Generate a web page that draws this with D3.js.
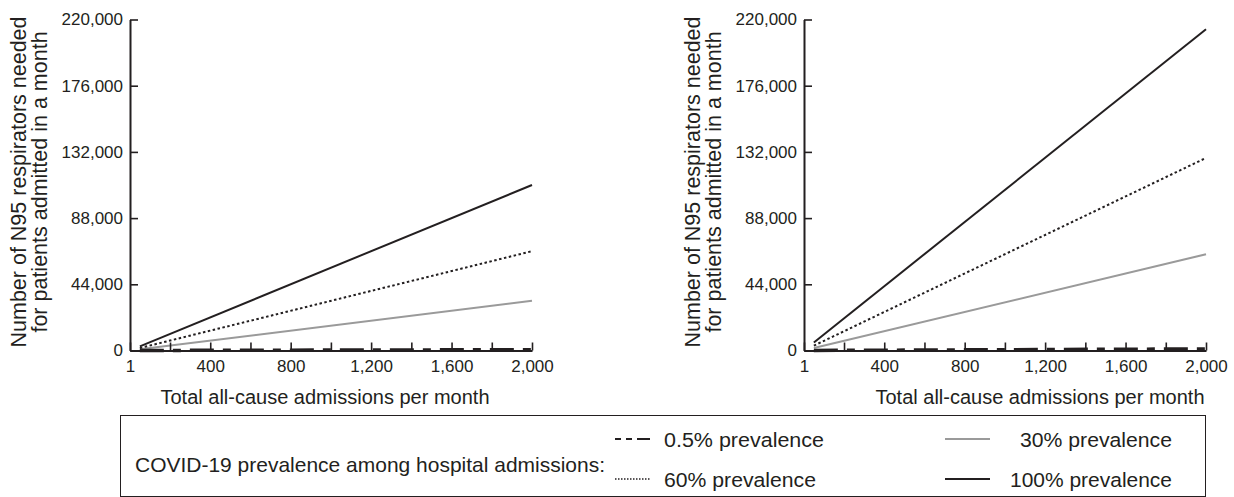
<!DOCTYPE html>
<html>
<head>
<meta charset="utf-8">
<script src="https://cdn.jsdelivr.net/npm/d3@7"></script>
<style>
	body { margin: 0; background: #fff; }
	svg text { font-family: "Liberation Sans", Arial, sans-serif; fill: #231f20; }
</style>
</head>
<body>
<div id="chart"></div>
<script>
// admissions per month at the two ends of each straight line
var admissions = [50, 2000];

// left panel: N95 respirators needed
var leftPrev05 = [28, 550];
var leftPrev30 = [825, 33000];
var leftPrev60 = [1650, 66000];
var leftPrev100 = [2750, 110000];

// right panel
var rightPrev05 = [27, 1070];
var rightPrev30 = [1600, 64000];
var rightPrev60 = [3200, 128000];
var rightPrev100 = [5340, 213500];

var yTicks = [0, 44000, 88000, 132000, 176000, 220000];
var xTicks = [1, 200, 400, 600, 800, 1000, 1200, 1400, 1600, 1800, 2000];
var xLabels = [1, 400, 800, 1200, 1600, 2000];

var legendLabels = ["0.5% prevalence", "60% prevalence", "30% prevalence", "100% prevalence"];

var ink = "#231f20";
var styles = {
	p05: { stroke: ink, width: 3.5, dash: "24,9,8,9" },
	p30: { stroke: "#9a9a9a", width: 2, dash: null },
	p60: { stroke: ink, width: 2, dash: "2.5,2.5" },
	p100: { stroke: ink, width: 2, dash: null }
};

var svg = d3.select("#chart")
	.append("svg")
	.attr("width", 1234)
	.attr("height", 497);

function drawPanel(left, series) {
	var x = d3.scaleLinear()
		.domain([1, 2000])
		.range([left, left + 402]);
	var y = d3.scaleLinear()
		.domain([0, 220000])
		.range([350.5, 19.5]);

	var g = svg.append("g");

	var line = d3.line()
		.x(function (d) { return x(d[0]); })
		.y(function (d) { return y(d[1]); });

	["p30", "p60", "p100"].forEach(function (k) {
		var s = styles[k];
		g.append("path")
			.datum(d3.zip(admissions, series[k]))
			.attr("d", line)
			.attr("fill", "none")
			.attr("stroke", s.stroke)
			.attr("stroke-width", s.width)
			.attr("stroke-dasharray", s.dash);
	});

	// y axis, ticks pointing in
	var yAxis = g.append("g")
		.attr("transform", "translate(" + left + ",0)")
		.call(d3.axisLeft(y)
			.tickValues(yTicks)
			.tickSizeInner(-8)
			.tickSizeOuter(0)
			.tickPadding(7)
			.tickFormat(d3.format(",")));

	// x axis
	var xAxis = g.append("g")
		.attr("transform", "translate(0," + y(0) + ")")
		.call(d3.axisBottom(x)
			.tickValues(xTicks)
			.tickSizeInner(-8)
			.tickSizeOuter(0)
			.tickPadding(9)
			.tickFormat(function (d) {
				return xLabels.indexOf(d) >= 0 ? d3.format(",")(d) : "";
			}));

	[yAxis, xAxis].forEach(function (a) {
		a.select(".domain").attr("stroke", ink).attr("stroke-width", 2);
		a.selectAll(".tick line").attr("stroke", ink).attr("stroke-width", 1.6);
		a.selectAll(".tick text")
			.attr("fill", ink)
			.style("font-size", "17px");
	});

	// 0.5% line sits on the axis
	var s = styles.p05;
	g.append("path")
		.datum(d3.zip(admissions, series.p05))
		.attr("d", line)
		.attr("fill", "none")
		.attr("stroke", s.stroke)
		.attr("stroke-width", s.width)
		.attr("stroke-dasharray", s.dash);

	// axis titles
	var ty = g.append("text")
		.attr("transform", "translate(" + (left - 104) + ",182) rotate(-90)")
		.attr("text-anchor", "middle")
		.style("font-size", "21.5px");
	ty.append("tspan").attr("x", 0).attr("dy", 0).text("Number of N95 respirators needed");
	ty.append("tspan").attr("x", 0).attr("dy", "0.98em").text("for patients admitted in a month");

	g.append("text")
		.attr("x", series.titleX)
		.attr("y", 404)
		.attr("text-anchor", "middle")
		.style("font-size", "20px")
		.text("Total all-cause admissions per month");
}

drawPanel(130, {
	p05: leftPrev05, p30: leftPrev30, p60: leftPrev60, p100: leftPrev100, titleX: 325
});
drawPanel(804, {
	p05: rightPrev05, p30: rightPrev30, p60: rightPrev60, p100: rightPrev100, titleX: 1040
});

// legend box
var lg = svg.append("g");
lg.append("rect")
	.attr("x", 120.5)
	.attr("y", 415.5)
	.attr("width", 1085)
	.attr("height", 81)
	.attr("fill", "none")
	.attr("stroke", ink)
	.attr("stroke-width", 1);

lg.append("text")
	.attr("x", 135)
	.attr("y", 472)
	.attr("textLength", 470)
	.attr("lengthAdjust", "spacingAndGlyphs")
	.style("font-size", "21px")
	.text("COVID-19 prevalence among hospital admissions:");

var legendRows = [
	{ key: "p05", x0: 615, x1: 650, lx: 664, y: 447, anchor: "start", len: 160 },
	{ key: "p60", x0: 615, x1: 650, lx: 664, y: 487, anchor: "start", len: 152 },
	{ key: "p30", x0: 945, x1: 990, lx: 1172, y: 447, anchor: "end", len: 152 },
	{ key: "p100", x0: 945, x1: 990, lx: 1172, y: 487, anchor: "end", len: 162 }
];

legendRows.forEach(function (r, i) {
	var s = styles[r.key];
	var dash = r.key === "p05" ? "6,5,6,5,13" : (r.key === "p60" ? "1.5,1.5" : null);
	lg.append("line")
		.attr("x1", r.x0).attr("x2", r.x1)
		.attr("y1", r.y - 8).attr("y2", r.y - 8)
		.attr("stroke", s.stroke)
		.attr("stroke-width", r.key === "p60" ? 1.5 : 2)
		.attr("stroke-dasharray", dash);
	lg.append("text")
		.attr("x", r.lx)
		.attr("y", r.y)
		.attr("text-anchor", r.anchor)
		.attr("textLength", r.len)
		.attr("lengthAdjust", "spacingAndGlyphs")
		.style("font-size", "20.5px")
		.text(legendLabels[i]);
});
</script>
</body>
</html>
